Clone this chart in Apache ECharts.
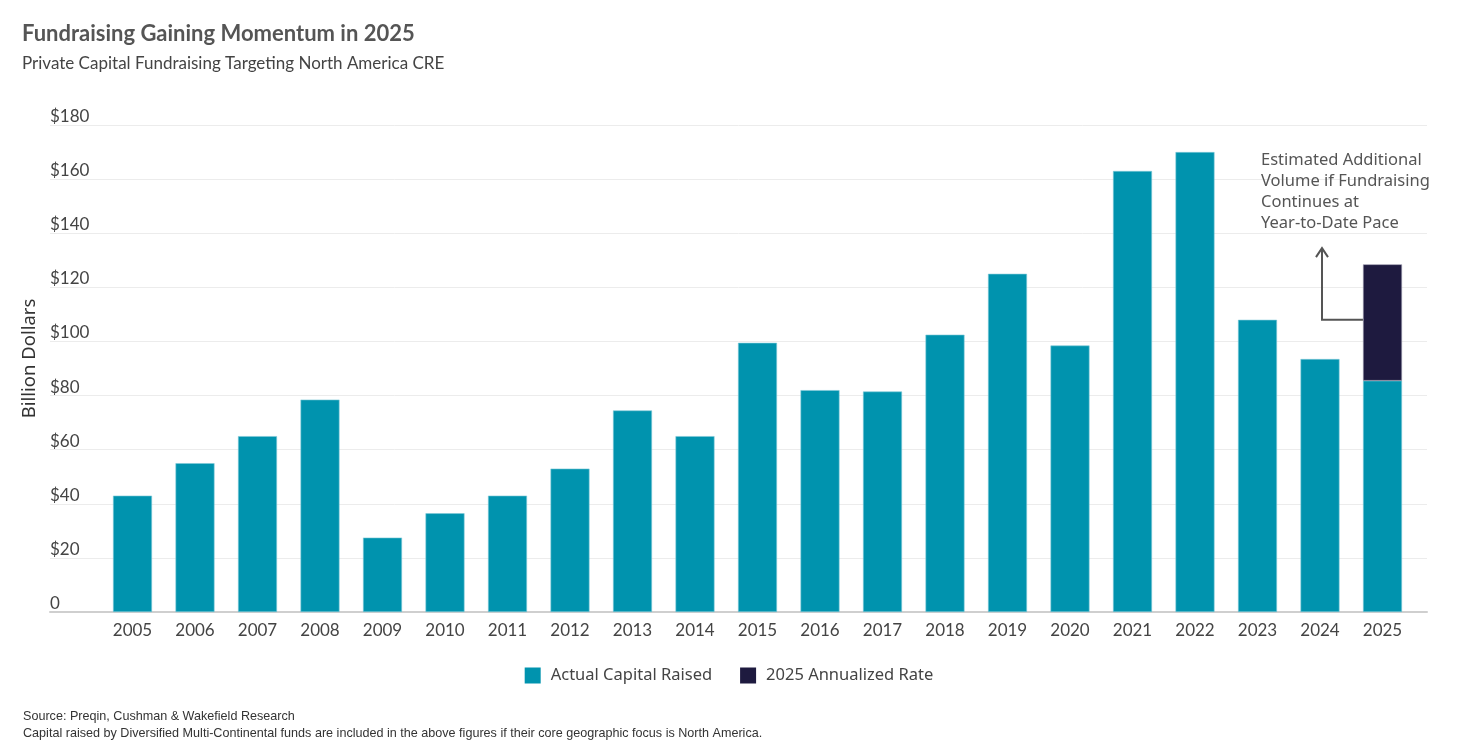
<!DOCTYPE html>
<html>
<head>
<meta charset="utf-8">
<script src="https://cdn.jsdelivr.net/npm/echarts@6/dist/echarts.min.js"></script>
<style>
html,body{margin:0;padding:0;background:#fff;}
#chart{width:1458px;height:752px;}
</style>
</head>
<body>
<div id="chart"></div>
<script>
const categories = ['2005','2006','2007','2008','2009','2010','2011','2012','2013','2014','2015','2016','2017','2018','2019','2020','2021','2022','2023','2024','2025'];
const actualCapital = [43, 55, 65, 78.5, 27.5, 36.5, 43, 53, 74.5, 65, 99.5, 82, 81.5, 102.5, 125, 98.5, 163, 170, 108, 93.5, 85.5];
const annualizedExtra = [null,null,null,null,null,null,null,null,null,null,null,null,null,null,null,null,null,null,null,null, 43];
const yTicks = [0, 20, 40, 60, 80, 100, 120, 140, 160, 180];
const annotationLines = ['Estimated Additional', 'Volume if Fundraising', 'Continues at', 'Year-to-Date Pace'];

const FONT = 'Lato, "Noto Sans", sans-serif';
const WIDE = '"Noto Sans", "Open Sans", sans-serif';
const NOTE = '"Liberation Sans", Arial, sans-serif';
const TEAL = '#0093ae';
const NAVY = '#1e1a3f';

const chart = echarts.init(document.getElementById('chart'));
const option = {
  backgroundColor: '#fff',
  animation: false,
  textStyle: { fontFamily: FONT },
  title: [
    { text: 'Fundraising Gaining Momentum in 2025', left: 17, top: 18,
      textStyle: { fontFamily: FONT, fontSize: 22, fontWeight: 'bold', color: '#555' } },
    { text: 'Private Capital Fundraising Targeting North America CRE', left: 17, top: 50,
      textStyle: { fontFamily: FONT, fontSize: 17, fontWeight: 'normal', color: '#444' } },
    { text: 'Source: Preqin, Cushman & Wakefield Research', left: 18, top: 705,
      textStyle: { fontFamily: NOTE, fontSize: 12.6, fontWeight: 'normal', color: '#333' } },
    { text: 'Capital raised by Diversified Multi-Continental funds are included in the above figures if their core geographic focus is North America.', left: 18, top: 722,
      textStyle: { fontFamily: NOTE, fontSize: 12.6, fontWeight: 'normal', color: '#333' } }
  ],
  legend: {
    bottom: 63, left: 'center',
    itemWidth: 16, itemHeight: 16, itemGap: 28,
    icon: 'rect',
    itemStyle: { borderWidth: 0 },
    textStyle: { fontFamily: WIDE, fontSize: 16.5, color: '#444', padding: [0,0,0,5] },
    data: ['Actual Capital Raised', '2025 Annualized Rate']
  },
  grid: [
    { left: 50, right: 31, top: 125, bottom: 140 },
    { left: 101.25, right: 44.25, top: 125, bottom: 140 }
  ],
  xAxis: [
    { gridIndex: 0, type: 'category', data: categories,
      axisLine: { show: true, lineStyle: { color: '#cfcfcf', width: 2 } },
      axisTick: { show: false }, axisLabel: { show: false }, splitLine: { show: false } },
    { gridIndex: 1, type: 'category', data: categories,
      axisLine: { show: false }, axisTick: { show: false },
      axisLabel: { fontFamily: FONT, fontSize: 17, color: '#444', margin: 10 } }
  ],
  yAxis: [
    { gridIndex: 0, type: 'value', min: 0, max: 180, interval: 20,
      name: 'Billion Dollars', nameLocation: 'middle', nameGap: 7, nameRotate: 90,
      nameTextStyle: { fontFamily: WIDE, fontSize: 18.5, color: '#333', padding: [0, 0, 0, 20] },
      axisLine: { show: false }, axisTick: { show: false },
      axisLabel: { inside: true, margin: 0, verticalAlign: 'bottom', padding: [0,0,0,0],
        fontFamily: FONT, fontSize: 17, color: '#444',
        formatter: v => (yTicks.indexOf(v) >= 0 ? (v === 0 ? '0' : '$' + v) : '') },
      splitLine: { show: true, lineStyle: { color: '#ececec', width: 1 } } },
    { gridIndex: 1, type: 'value', min: 0, max: 180, interval: 20, show: false, splitLine: { show: false } }
  ],
  series: [
    { name: 'Actual Capital Raised', type: 'bar', xAxisIndex: 1, yAxisIndex: 1, stack: 'total',
      barWidth: 39, data: actualCapital,
      itemStyle: { color: TEAL, borderColor: '#7fcad8', borderWidth: 0.6 } },
    { name: '2025 Annualized Rate', type: 'bar', xAxisIndex: 1, yAxisIndex: 1, stack: 'total',
      barWidth: 39, data: annualizedExtra,
      itemStyle: { color: NAVY, borderColor: '#9a98ad', borderWidth: 0.6 } }
  ]
};
chart.setOption(option);

// annotation: text + elbow arrow anchored via axis conversion
const lastIdx = categories.length - 1;
const toPx = (i, v) => chart.convertToPixel({ xAxisIndex: 1, yAxisIndex: 1 }, [i, v]);
const barLeft = toPx(lastIdx, 0)[0] - 19.5;
const elbowX = toPx(lastIdx - 1, 0)[0] + 2;
const elbowY = toPx(lastIdx, 108)[1];
const tipY = toPx(lastIdx, 134.5)[1];
const textLeft = elbowX - 61;
const textTop = toPx(lastIdx, 171)[1];

chart.setOption({
  graphic: [
    { type: 'polyline', shape: { points: [[barLeft, elbowY], [elbowX, elbowY], [elbowX, tipY + 1]] },
      style: { stroke: '#555', lineWidth: 2, fill: null } },
    { type: 'polyline', shape: { points: [[elbowX - 6, tipY + 9], [elbowX, tipY], [elbowX + 6, tipY + 9]] },
      style: { stroke: '#555', lineWidth: 2, fill: null } },
    { type: 'text', left: textLeft, top: textTop,
      style: { text: annotationLines.join('\n'), fontFamily: WIDE, fontSize: 16.5, lineHeight: 21, fill: '#555' } }
  ]
});
</script>
</body>
</html>
